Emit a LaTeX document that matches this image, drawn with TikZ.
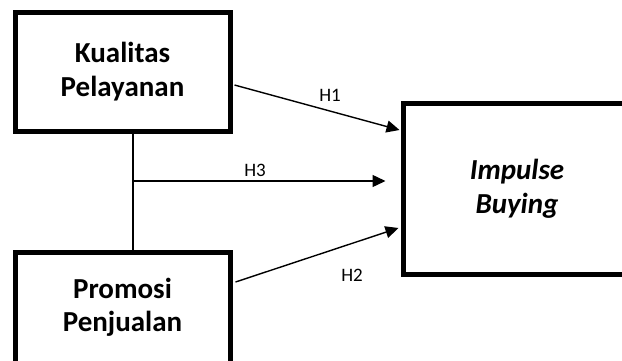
\documentclass[tikz,border=0pt]{standalone}
\usepackage{fontspec}
\setmainfont{Carlito}
\usetikzlibrary{arrows.meta,calc}
\begin{document}
\begin{tikzpicture}[x=1pt,y=-1pt,
  varbox/.style={draw=black,line width=5pt,fill=white,align=center,inner sep=0pt,
    font=\fontsize{29}{34}\selectfont\bfseries},
  arr/.style={line width=1.4pt,-{Triangle[length=13pt,width=12pt]}},
  link/.style={line width=1.4pt},
  hlab/.style={font=\fontsize{19}{22}\selectfont,inner sep=0pt}]
\useasboundingbox (0,0) rectangle (622,360);
\clip (0,0) rectangle (622,360);
\node[varbox,minimum width=215pt,minimum height=119pt] (kp) at (122.5,71.5) {Kualitas\\Pelayanan};
\node[varbox,minimum width=215pt,minimum height=112pt] (pp) at (122.5,308) {\raisebox{10pt}{\begin{tabular}{@{}c@{}}Promosi\\[-1pt]Penjualan\end{tabular}}};
\node[varbox,minimum width=228pt,minimum height=170.5pt,font=\fontsize{29}{34}\selectfont\bfseries\itshape] (ib) at (517,188.75) {Impulse\\Buying};
% junction line
\coordinate (j1) at ([xshift=10.5pt]kp.south);
\coordinate (j2) at ([xshift=10.5pt]pp.north);
\draw[link] (j1) -- (j2);
% H1
\coordinate (h1s) at ([xshift=2pt,yshift=-13.5pt]kp.east);
\coordinate (h1e) at ([xshift=-1pt,yshift=58.75pt]ib.west);
\draw[arr] (h1s) -- (h1e);
% H2
\coordinate (h2s) at ([xshift=3pt,yshift=26pt]pp.east);
\coordinate (h2e) at ([xshift=-2pt,yshift=-39.25pt]ib.west);
\draw[arr] (h2s) -- (h2e);
% H3
\coordinate (h3s) at (j1 |- 0,181);
\path (h3s -| ib.west) ++(-15,0) coordinate (h3e);
\draw[arr] (h3s) -- (h3e);
% labels
\node[hlab] (l1) at (330,95) {H1};
\node[hlab] (l3) at (255,170) {H3};
\node[hlab] (l2) at (352,275) {H2};
\end{tikzpicture}
\end{document}
